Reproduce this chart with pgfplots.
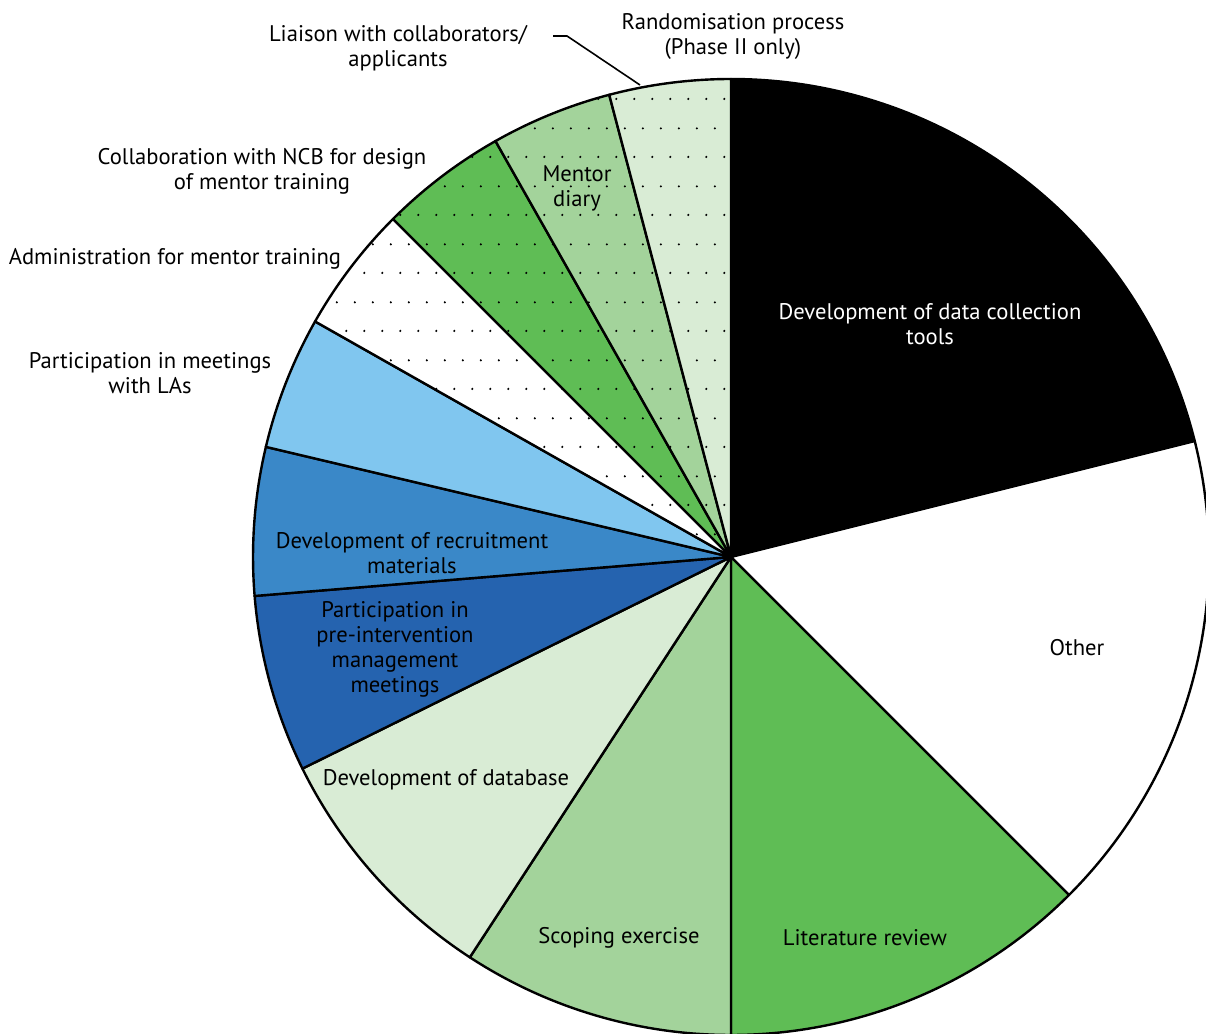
\documentclass[border=0pt]{standalone}
\usepackage{pgfplots}
\pgfplotsset{compat=1.18}
\usepackage{pgfplotstable}
\usepackage{fontspec}
\setmainfont{PT Sans}
\usetikzlibrary{patterns}

\definecolor{grA}{HTML}{5FBD55}
\definecolor{grB}{HTML}{A3D39B}
\definecolor{grC}{HTML}{D9ECD5}
\definecolor{blA}{HTML}{2563AF}
\definecolor{blB}{HTML}{3A88C8}
\definecolor{blC}{HTML}{80C6EF}

% staggered dot pattern
\pgfdeclarepatternformonly{stagdots}{\pgfpointorigin}{\pgfpoint{9pt}{29pt}}{\pgfpoint{9pt}{29pt}}{%
  \pgfpathcircle{\pgfpoint{2.25pt}{3.6pt}}{0.6pt}%
  \pgfpathcircle{\pgfpoint{6.75pt}{18.1pt}}{0.6pt}%
  \pgfusepath{fill}}

% share of time in %, clockwise from 12 o'clock
\pgfplotstableread{
value fill dots
21.1 black 0
16.4 white 0
12.5 grA   0
9.2  grB   0
8.5  grC   0
6.0  blA   0
5.0  blB   0
4.5  blC   0
4.3  white 1
4.3  grA   1
4.1  grB   1
4.1  grC   1
}\pietable

\begin{document}
\begin{tikzpicture}
\begin{axis}[
    name=ax,
    hide axis,
    scale only axis,
    x=0.5pt, y=0.5pt,
    xmin=0, xmax=1206,
    ymin=0, ymax=1034,
    clip=false,
]
\pgfplotstablegetrowsof{\pietable}
\pgfmathtruncatemacro\nrows{\pgfplotsretval-1}
\def\angstart{90}
\pgfplotsforeachungrouped \i in {0,...,\nrows}{%
  \pgfplotstablegetelem{\i}{value}\of\pietable \let\val\pgfplotsretval
  \pgfplotstablegetelem{\i}{fill}\of\pietable \let\col\pgfplotsretval
  \pgfplotstablegetelem{\i}{dots}\of\pietable \let\dts\pgfplotsretval
  \pgfmathsetmacro\angend{\angstart-3.6*\val}%
  \ifnum\dts=1 \edef\sty{preaction={fill=\col},pattern=stagdots}\else\edef\sty{fill=\col}\fi
  \edef\temp{\noexpand\filldraw[\sty, draw=black, line width=1.2pt, line join=round]
    (axis cs:731,477) -- ++(\angstart:239pt)
    arc[start angle=\angstart, end angle=\angend, radius=239pt] -- cycle;}%
  \temp
  \global\let\angstart\angend
}

\begin{scope}[every node/.style={align=center, inner sep=0pt,
    font=\fontsize{11.3}{12.5}\selectfont}]
\node[text=white] at (axis cs:930,710) {Development of data collection\\tools};
\node at (axis cs:1077,386) {Other};
\node at (axis cs:865,96) {Literature review};
\node at (axis cs:619,96) {Scoping exercise};
\node at (axis cs:446,254) {Development of database};
\node at (axis cs:395,385) {Participation in\\pre-intervention\\management\\meetings};
\node at (axis cs:412,481) {Development of recruitment\\materials};
\node at (axis cs:150,661) {Participation in meetings\\with LAs};
\node at (axis cs:175,775) {Administration for mentor training};
\node at (axis cs:262,863) {Collaboration with NCB for design\\of mentor training};
\node at (axis cs:577,846) {Mentor\\diary};
\node at (axis cs:398,986) {Liaison with collaborators/\\applicants};
\node at (axis cs:733,998) {Randomisation process\\(Phase II only)};
\end{scope}
\draw[line width=0.8pt] (axis cs:553,998) -- (axis cs:567,998) -- (axis cs:640,949);
\end{axis}
\pgfresetboundingbox
\path (ax.south west) rectangle (ax.north east);
\end{tikzpicture}
\end{document}
